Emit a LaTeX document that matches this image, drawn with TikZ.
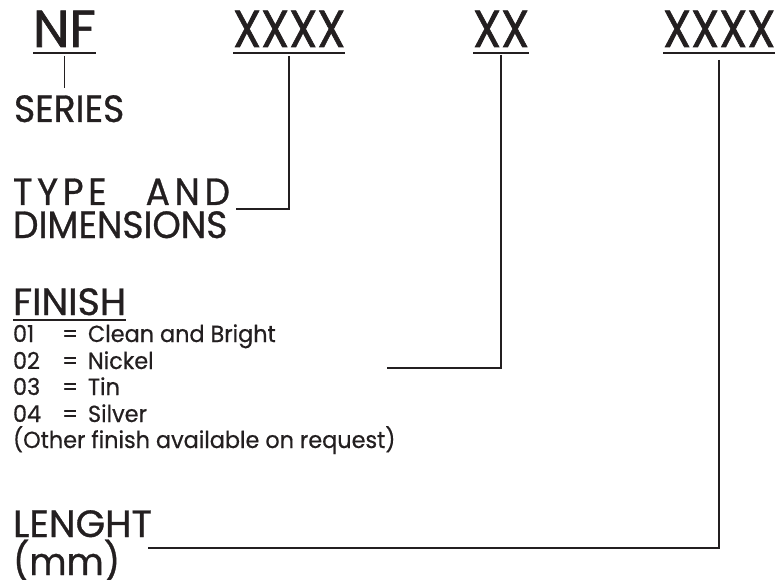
\documentclass[tikz,border=0pt]{standalone}
\usepackage{fontspec}
\setmainfont{Poppins}
\definecolor{ink}{HTML}{231F20}
\newfontfamily\codefont[FakeStretch=0.87,FakeBold=1.2]{Poppins}
\newfontfamily\codewidefont[FakeStretch=1.0,FakeBold=1.2]{Poppins}
\newfontfamily\bigfont[FakeStretch=0.95,FakeBold=0.8]{Poppins}
\newfontfamily\bigwidefont[FakeStretch=1.0,FakeBold=0.8]{Poppins}
\newfontfamily\smallfont[FakeStretch=0.96,FakeBold=0.5]{Poppins}
\begin{document}
\begin{tikzpicture}[x=1pt,y=-1pt,
  every node/.style={inner sep=0pt, outer sep=0pt, anchor=base west, text=ink},
  code/.style={font=\codefont\fontsize{52}{52}\selectfont},
  codewide/.style={font=\codewidefont\fontsize{52}{52}\selectfont},
  big/.style={font=\bigfont\fontsize{38}{38}\selectfont},
  bigwide/.style={font=\bigwidefont\fontsize{38}{38}\selectfont},
  small/.style={font=\smallfont\fontsize{23.3}{23.3}\selectfont},
  uline/.style={draw=ink, line width=1.8pt},
  conn/.style={draw=ink, line width=1.6pt}]
\useasboundingbox (0,0) rectangle (779,580);
% codes
\node[codewide] (nf) at (33,47) {NF};
\node[code] (xa) at (233,47) {XXXX};
\node[code] (xb) at (473,47) {XX};
\node[code] (xc) at (663,47) {XXXX};
\foreach \n in {nf,xa,xb,xc}
  \draw[uline] ([yshift=-6pt]\n.base west) -- ([yshift=-6pt]\n.base east);
% labels
\node[big] (series) at (14,122) {SERIES};
\node[big] (typeand) at (13,205) {\hbox to 217pt{\addfontfeature{LetterSpace=12}TYPE\hfill AND}};
\node[big] (dims) at (13,238) {DIMENSIONS};
\node[bigwide] (finish) at (13,315) {FINISH};
\draw[uline] ([yshift=-5pt]finish.base west) -- ([yshift=-5pt]finish.base east);
\node[small] (n1) at (13,342) {01};
\node[small] (e1) at (62,342) {\makebox[26pt][l]{=}Clean and Bright};
\node[small] (n2) at (13,369) {02};
\node[small] (e2) at (62,369) {\makebox[26pt][l]{=}Nickel};
\node[small] (n3) at (13,395) {03};
\node[small] (e3) at (62,395) {\makebox[26pt][l]{=}Tin};
\node[small] (n4) at (13,422) {04};
\node[small] (e4) at (62,422) {\makebox[26pt][l]{=}Silver};
\node[small] (other) at (13,448) {(Other finish available on request)};
\node[bigwide] (lenght) at (13,537) {LENGHT};
\node[big] (mm) at (13,575) {(mm)};
% connectors
\coordinate (xbend) at (387,368);
\coordinate (xcend) at (148,548);
\draw[conn] ([yshift=-9pt]nf.base) -- ([yshift=7pt]nf.base |- series.north);
\draw[conn] ([yshift=-9pt]xa.base) |- ([shift={(6,4)}]typeand.base east);
\draw[conn] ([yshift=-8pt]xb.base) |- (xbend);
\draw[conn] ([yshift=-13pt]xc.base) |- (xcend);
\end{tikzpicture}
\end{document}
